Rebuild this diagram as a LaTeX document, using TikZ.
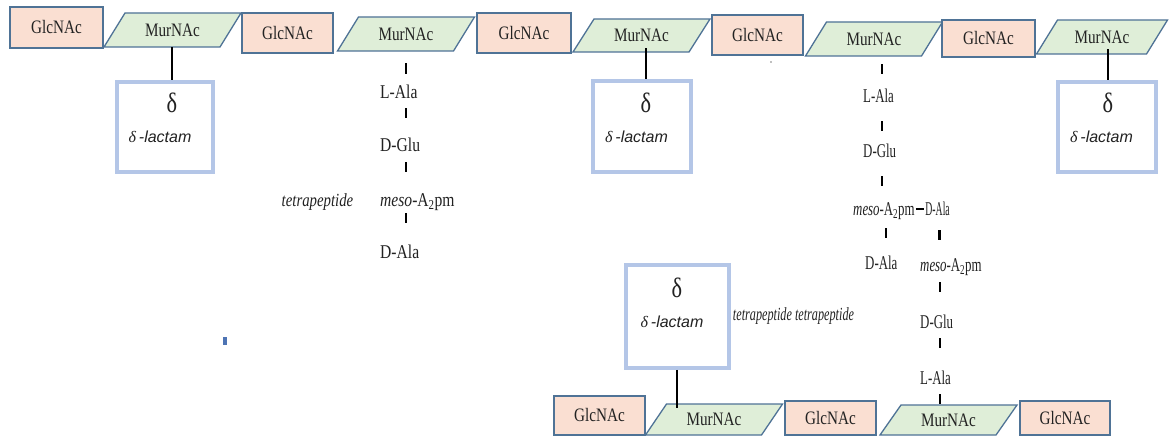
\documentclass[tikz,border=0pt]{standalone}
\usepackage{fontspec}
\setmainfont{Liberation Serif}
\newfontfamily\serC{Liberation Serif}[FakeStretch=0.8]
\newfontfamily\serN{Liberation Serif}[FakeStretch=0.66]
\newfontfamily\serX{Liberation Serif}[FakeStretch=0.5]
\newfontfamily\sansI{Liberation Sans}
\definecolor{outl}{HTML}{4F7396}
\definecolor{glcfill}{HTML}{FADFD2}
\definecolor{murfill}{HTML}{DFEED8}
\definecolor{lboxc}{HTML}{B4C6E7}
\definecolor{txt}{HTML}{222222}
\definecolor{speck}{HTML}{4E74B4}
\tikzset{
 glc/.style={draw=outl, fill=glcfill, line width=1.3pt, inner sep=0pt, text=txt, font=\serC\fontsize{19}{19}\selectfont, text height=12.5pt, text depth=0pt},
 murtxt/.style={inner sep=0pt, text=txt, font=\serC\fontsize{19}{19}\selectfont, text height=12.5pt, text depth=0pt},
 murshape/.style={draw=outl, fill=murfill, line width=1.3pt},
 lactbox/.style={draw=lboxc, line width=3.5pt, fill=white, inner sep=0pt},
 bigd/.style={inner sep=0pt, text=txt, font=\serC\fontsize{28}{28}\selectfont, text height=19pt, text depth=0pt},
 lact/.style={inner sep=0pt, text=txt, font=\fontsize{16}{16}\selectfont, text height=11.5pt, text depth=0pt},
 pep/.style={inner sep=1pt, anchor=west, text=txt, font=\serC\fontsize{19.5}{20}\selectfont, text height=12.5pt, text depth=0pt},
 pepn/.style={pep, font=\serN\fontsize{19.5}{20}\selectfont},
 pepx/.style={pep, font=\serX\fontsize{19.5}{20}\selectfont},
 tetra/.style={inner sep=0pt, text=txt, font=\serC\itshape\fontsize{18.5}{19}\selectfont, text height=12pt, text depth=0pt},
 tetran/.style={tetra, font=\serN\itshape\fontsize{18.5}{19}\selectfont},
 tickn/.style={fill=black, minimum width=2.6pt, minimum height=10pt, inner sep=0pt},
 link/.style={draw=black, line width=2pt},
 bond/.style={draw=black, line width=2.6pt},
}
\newcommand\murn[5]{%
  \pgfmathsetmacro\mxl{#2-#4/2}\pgfmathsetmacro\mxr{#2+#4/2}%
  \pgfmathsetmacro\myt{#3-#5/2}\pgfmathsetmacro\myb{#3+#5/2}%
  \draw[murshape] (\mxl-10.5,\myb) -- (\mxr-10.5,\myb) -- (\mxr+10.5,\myt) -- (\mxl+10.5,\myt) -- cycle;
  \node[murtxt, minimum width=#4, minimum height=#5] (#1) at (#2,#3) {MurNAc};}
\newcommand\lactxt{\textit{δ}\,{\sansI\itshape -lactam}}
\newcommand\mesotxt{{\itshape meso}-A\textsubscript{2}pm}
\begin{document}
\begin{tikzpicture}[x=1pt,y=-1pt]
\useasboundingbox (0,0) rectangle (1169,436);
\fill[white] (0,0) rectangle (1169,436);

% top chain
\node[glc, minimum width=93, minimum height=41] (g1) at (56.5,27.5) {GlcNAc};
\murn{m1}{172.5}{30}{116}{34}
\node[glc, minimum width=91, minimum height=40] (g2) at (287.5,33) {GlcNAc};
\murn{m2}{406}{34}{116}{34}
\node[glc, minimum width=94, minimum height=40] (g3) at (524,33) {GlcNAc};
\murn{m3}{641.5}{35.5}{116}{33}
\node[glc, minimum width=91, minimum height=40] (g4) at (757.5,35) {GlcNAc};
\murn{m4}{874}{39}{116}{34}
\node[glc, minimum width=93, minimum height=37] (g5) at (988.5,38.5) {GlcNAc};
\murn{m5}{1102}{37}{110}{34}

% bottom chain
\node[glc, minimum width=91, minimum height=39] (b1) at (599.5,415.5) {GlcNAc};
\murn{bm1}{714}{419.5}{116}{31}
\node[glc, minimum width=91, minimum height=34] (b2) at (830.5,418) {GlcNAc};
\murn{bm2}{948.5}{420}{116}{30}
\node[glc, minimum width=90, minimum height=34] (b3) at (1065,418) {GlcNAc};

% delta-lactam boxes
\node[lactbox, minimum width=96, minimum height=90] (l1) at (165,127) {};
\node[bigd] (d1) at (172,103) {δ};
\node[lact] (t1) at (160,137) {\lactxt};
\draw[link] (d1 |- m1.south) -- (d1 |- l1.north);

\node[lactbox, minimum width=98, minimum height=91] (l2) at (642,126.5) {};
\node[bigd] (d2) at (646,103) {δ};
\node[lact] (t2) at (636.5,137) {\lactxt};
\draw[link] ([yshift=4pt]d2 |- m3.south) -- (d2 |- l2.north);

\node[lactbox, minimum width=98, minimum height=90] (l3) at (1107,127) {};
\node[bigd] (d3) at (1108,103) {δ};
\node[lact] (t3) at (1101.5,137) {\lactxt};
\draw[link] ([yshift=5pt]d3 |- m5.south) -- (d3 |- l3.north);

\node[lactbox, minimum width=103, minimum height=103] (l4) at (677.5,316.5) {};
\node[bigd] (d4) at (677,288) {δ};
\node[lact] (t4) at (672,322) {\lactxt};
\draw[link] (d4 |- l4.south) -- ([yshift=-4pt]d4 |- bm1.north);

% left peptide
\node[tickn] (k1) at (406,68.5) {};
\node[pep] (p1) at (379,92) {L-Ala};
\node[tickn] (k2) at (406,113) {};
\node[pep] (p2) at (379,145) {D-Glu};
\node[tickn] (k3) at (406,167) {};
\node[pep] (p3) at (379,200) {\mesotxt};
\node[tickn] (k4) at (406,218) {};
\node[pep] (p4) at (379,252) {D-Ala};
\node[tetra] (tp1) at (317.5,200) {tetrapeptide};

% right cross-linked peptides
\node[tickn, minimum height=9pt] (r1) at (882,69) {};
\node[pepn] (q1) at (862,96) {L-Ala};
\node[tickn] (r2) at (882,126) {};
\node[pepn] (q2) at (862,151) {D-Glu};
\node[tickn] (r3) at (882,181) {};
\node[pepn] (q3) at (852,209) {\mesotxt};
\node[pepx, anchor=east] (q4) at (951,209) {D-Ala};
\draw[bond] (q3.east) -- (q4.west);
\node[tickn] (r4) at (886,233) {};
\node[pepn] (q5) at (864,263) {D-Ala};
\node[tickn] (r5) at (939.5,235) {};
\node[pepn] (q6) at (919,265) {\mesotxt};
\node[tickn] (r6) at (940,287) {};
\node[pepn] (q7) at (919,322) {D-Glu};
\node[tickn] (r7) at (940,343) {};
\node[pepn] (q8) at (919,378) {L-Ala};
\node[tickn] (r8) at (940,399) {};
\node[tetran] (tp2) at (793.5,314) {tetrapeptide tetrapeptide};

% specks
\fill[speck] (223,337) rectangle (227,345);
\fill[gray] (771,62) circle (0.9);
\end{tikzpicture}
\end{document}
